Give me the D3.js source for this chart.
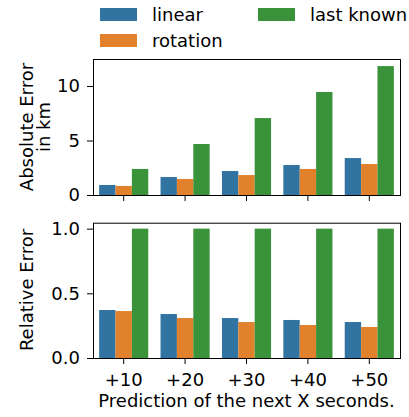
<!DOCTYPE html>
<html>
<head>
<meta charset="utf-8">
<script src="https://cdn.jsdelivr.net/npm/d3@7"></script>
<style>
  body { margin: 0; background: #fff; }
  text { font-family: "DejaVu Sans", sans-serif; fill: #000; }
</style>
</head>
<body>
<script>
const horizons = ["+10", "+20", "+30", "+40", "+50"];
const methods = ["linear", "rotation", "last known"];
const colors = ["#3274a1", "#e1812c", "#3a923a"];

// absolute error in km, per method
const absLinear = [0.92, 1.65, 2.2, 2.75, 3.39];
const absRotation = [0.83, 1.47, 1.83, 2.39, 2.84];
const absLast = [2.39, 4.68, 7.06, 9.45, 11.83];

// relative error (normalised to last known)
const relLinear = [0.371, 0.34, 0.309, 0.294, 0.278];
const relRotation = [0.363, 0.309, 0.278, 0.255, 0.24];
const relLast = [1.0, 1.0, 1.0, 1.0, 1.0];

const absTicks = [0, 5, 10];
const relTicks = [0, 0.5, 1.0];

const W = 409, H = 417;
const left = 93, right = 400;
const fs = 18;

const svg = d3.select("body").append("svg")
  .attr("width", W).attr("height", H);

// one band per horizon, three bars inside taking 80% of it
const x = d3.scaleBand().domain(horizons).range([left, right]).paddingInner(0.2).paddingOuter(0.1);
const xs = d3.scaleBand().domain(methods).range([0, x.bandwidth()]);

function panel(top, bottom, yMax, series, ticks, fmt, showX) {
  const y = d3.scaleLinear().domain([0, yMax]).range([bottom, top]);
  const g = svg.append("g");

  series.forEach((vals, k) => {
    g.selectAll(null).data(vals).enter().append("rect")
      .attr("x", (d, i) => x(horizons[i]) + xs(methods[k]))
      .attr("width", xs.bandwidth())
      .attr("y", d => y(d))
      .attr("height", d => y(0) - y(d))
      .attr("fill", colors[k]);
  });

  const ya = g.append("g").attr("transform", `translate(${left},0)`)
    .call(d3.axisLeft(y).tickValues(ticks).tickFormat(fmt).tickSize(6).tickPadding(7));
  const xa = g.append("g").attr("transform", `translate(0,${bottom})`)
    .call(d3.axisBottom(x).tickSize(6).tickPadding(9).tickFormat(showX ? d => d : () => ""));
  [ya, xa].forEach(a => {
    a.select(".domain").remove();
    a.selectAll("text").attr("font-size", fs).attr("font-family", "DejaVu Sans");
    a.selectAll("line").attr("stroke", "#000").attr("stroke-width", 1);
  });

  g.append("rect")
    .attr("x", left + 0.5).attr("y", top + 0.5)
    .attr("width", right - left).attr("height", bottom - top)
    .attr("fill", "none").attr("stroke", "#000").attr("stroke-width", 1);
  return g;
}

panel(59, 195, 12.48, [absLinear, absRotation, absLast], absTicks, d3.format("d"), false);
panel(222.7, 358, 1.046, [relLinear, relRotation, relLast], relTicks, d3.format(".1f"), true);

// y labels
function ylab(lines, xs0, cy) {
  lines.forEach((t, i) => {
    svg.append("text")
      .attr("transform", `translate(${xs0[i]},${cy}) rotate(-90)`)
      .attr("text-anchor", "middle")
      .attr("font-size", fs)
      .text(t);
  });
}
ylab(["Absolute Error", "in km"], [33, 50], 127);
ylab(["Relative Error"], [33], 290);

svg.append("text")
  .attr("x", (left + right) / 2).attr("y", 407)
  .attr("text-anchor", "middle").attr("font-size", fs)
  .text("Prediction of the next X seconds.");

// legend, two columns above the top panel
const legendPos = [[100, 8], [100, 34], [258, 8]];
methods.forEach((m, k) => {
  const [lx, ly] = legendPos[k];
  svg.append("rect").attr("x", lx).attr("y", ly).attr("width", 37).attr("height", 13)
    .attr("fill", colors[k]);
  svg.append("text").attr("x", lx + 52).attr("y", ly + 13)
    .attr("font-size", fs).text(m);
});
</script>
</body>
</html>
